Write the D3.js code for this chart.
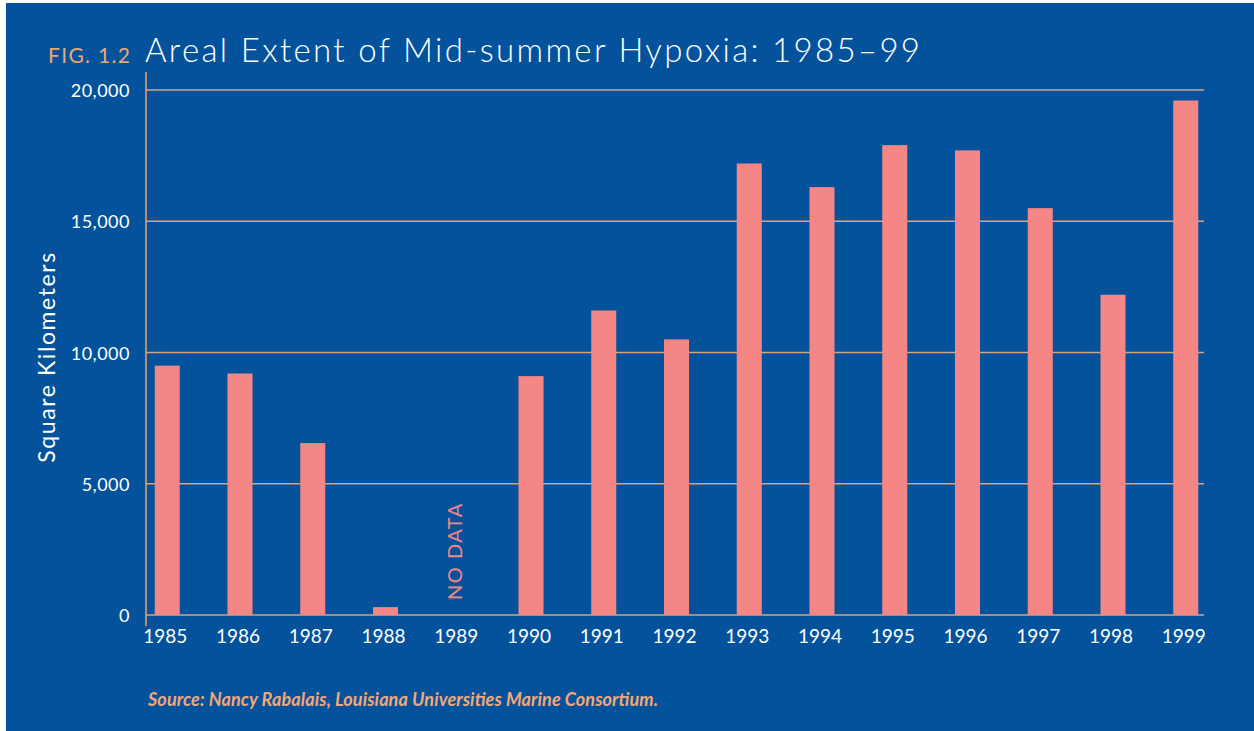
<!DOCTYPE html>
<html>
<head>
<meta charset="utf-8">
<script src="https://cdn.jsdelivr.net/npm/d3@7"></script>
<style>
  body { margin: 0; background: #fff; }
  text { font-family: Lato, "Open Sans", sans-serif; }
</style>
</head>
<body>
<div id="chart"></div>
<script>
// chart data
var years = ["1985", "1986", "1987", "1988", "1989", "1990", "1991", "1992",
             "1993", "1994", "1995", "1996", "1997", "1998", "1999"];
var areaKm2 = [9500, 9200, 6550, 300, null, 9100, 11600, 10500,
               17200, 16300, 17900, 17700, 15500, 12200, 19600];
var yTicks = [0, 5000, 10000, 15000, 20000];

var w = 1254;
var h = 731;

var svg = d3.select("#chart")
  .append("svg")
  .attr("width", w)
  .attr("height", h);

// blue panel
svg.append("rect")
  .attr("x", 6)
  .attr("y", 3)
  .attr("width", w - 6)
  .attr("height", h - 3)
  .attr("fill", "#03529b");

// plot edges (note: "top" is taken by window.top)
var plotLeft = 146, plotRight = 1204, plotTop = 90, plotBottom = 615;

var xScale = d3.scaleBand()
  .domain(years)
  .range([plotLeft, plotRight + 3])
  .paddingInner(0.656)
  .paddingOuter(0.12);

var yScale = d3.scaleLinear()
  .domain([0, 20000])
  .range([plotBottom, plotTop]);

// gridlines
svg.append("g")
  .selectAll("line")
  .data(yTicks)
  .join("line")
  .attr("x1", plotLeft)
  .attr("x2", plotRight)
  .attr("y1", d => yScale(d))
  .attr("y2", d => yScale(d))
  .attr("stroke", "#d8a47c")
  .attr("stroke-width", 1.5);

// y axis tick labels
svg.append("g")
  .selectAll("text")
  .data(yTicks)
  .join("text")
  .attr("x", 130)
  .attr("y", d => yScale(d) + 7)
  .attr("text-anchor", "end")
  .attr("fill", "#fff")
  .attr("font-size", 18)
  .attr("letter-spacing", 0.5)
  .text(d => d3.format(",")(d));

// bars
svg.append("g")
  .selectAll("rect")
  .data(years.map((y, i) => ({ year: y, value: areaKm2[i] })).filter(d => d.value !== null))
  .join("rect")
  .attr("x", d => xScale(d.year))
  .attr("y", d => yScale(d.value))
  .attr("width", xScale.bandwidth())
  .attr("height", d => yScale(0) - yScale(d.value))
  .attr("fill", "#f58686");

// vertical axis line
svg.append("line")
  .attr("x1", plotLeft).attr("x2", plotLeft)
  .attr("y1", 72).attr("y2", 626)
  .attr("stroke", "#f0a062")
  .attr("stroke-width", 1.5);

// x labels
svg.append("g")
  .selectAll("text")
  .data(years)
  .join("text")
  .attr("x", d => xScale(d) + xScale.bandwidth() / 2 - 2)
  .attr("y", 643)
  .attr("text-anchor", "middle")
  .attr("fill", "#fff")
  .attr("font-size", 19)
  .text(d => d);

// no data marker
var ndX = xScale("1989") + xScale.bandwidth() / 2 + 4;
svg.append("text")
  .attr("transform", "translate(" + ndX + "," + 600 + ") rotate(-90)")
  .attr("fill", "#f58686")
  .attr("font-size", 20)
  .attr("letter-spacing", 1.5)
  .text("NO DATA");

// y axis title
svg.append("text")
  .attr("transform", "translate(55,357) rotate(-90)")
  .attr("text-anchor", "middle")
  .attr("fill", "#fff")
  .attr("font-size", 23)
  .attr("letter-spacing", 1.6)
  .text("Square Kilometers");

// titles
svg.append("text")
  .attr("x", 48)
  .attr("y", 63)
  .attr("fill", "#f0a672")
  .attr("font-size", 21)
  .attr("textLength", 82)
  .text("FIG. 1.2");

svg.append("text")
  .attr("x", 145)
  .attr("y", 62)
  .attr("fill", "#fff")
  .attr("font-size", 33)
  .attr("font-weight", 300)
  .attr("textLength", 775)
  .attr("lengthAdjust", "spacing")
  .text("Areal Extent of Mid-summer Hypoxia: 1985\u201399");

// source
svg.append("text")
  .attr("x", 148)
  .attr("y", 706)
  .attr("fill", "#f2a878")
  .attr("font-family", "'Liberation Sans Narrow', 'Arial Narrow', sans-serif")
  .attr("font-weight", "bold")
  .attr("font-style", "italic")
  .attr("font-size", 18)
  .attr("textLength", 510)
  .text("Source: Nancy Rabalais, Louisiana Universities Marine Consortium.");
</script>
</body>
</html>
